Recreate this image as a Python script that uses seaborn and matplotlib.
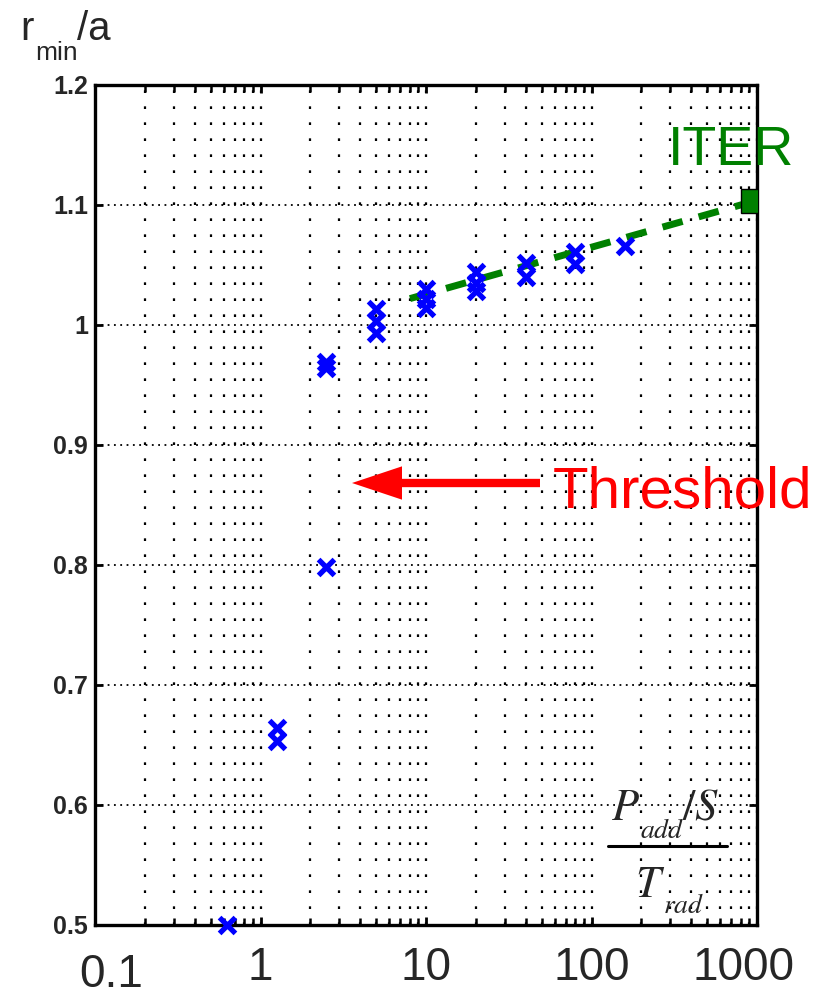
import numpy as np
import pandas as pd
import matplotlib
matplotlib.use("Agg")
import matplotlib.pyplot as plt
import matplotlib.transforms as mtrans
from matplotlib.lines import Line2D
import seaborn as sns

# ---- data ----
power_ratio = [0.625, 1.25, 1.25, 2.5, 2.5, 2.5, 5, 5, 5, 10, 10, 10,
               20, 20, 20, 40, 40, 80, 80, 160]
r_min = [0.5, 0.664, 0.653, 0.969, 0.964, 0.798, 1.013, 1.003, 0.993,
         1.03, 1.022, 1.014, 1.044, 1.035, 1.028, 1.052, 1.04, 1.061, 1.051, 1.066]
fit_x = [8, 950]
fit_y = [1.022, 1.103]
iter_x = [950]
iter_y = [1.103]
xticks = [0.1, 1, 10, 100, 1000]
xticklabels = ["0.1", "1", "10", "100", "1000"]
yticks = [0.5, 0.6, 0.7, 0.8, 0.9, 1.0, 1.1, 1.2]
yticklabels = ["0.5", "0.6", "0.7", "0.8", "0.9", "1", "1.1", "1.2"]

sns.set_style("ticks")
plt.rcParams['font.family'] = ['Liberation Sans', 'DejaVu Sans']
plt.rcParams['mathtext.fontset'] = 'stix'

W, H = 827, 1006
fig = plt.figure(figsize=(W / 100, H / 100), dpi=100)
ax = fig.add_axes([95 / W, 1 - 925 / H, (757 - 95) / W, (925 - 85) / H])

df = pd.DataFrame({"x": power_ratio, "y": r_min})
fit = pd.DataFrame({"x": fit_x, "y": fit_y})

sns.lineplot(data=fit, x="x", y="y", ax=ax, color="#008000", lw=5,
             dashes=False, zorder=3)
ax.lines[-1].set_linestyle((0, (3.0, 2.4)))
ax.plot(iter_x, iter_y, marker="s", ms=17, color="#008000", mec="black",
        mew=1.0, ls="none", zorder=4)
sns.scatterplot(data=df, x="x", y="y", ax=ax, marker="x", color="blue",
                s=130, linewidth=3.8, zorder=5, clip_on=False)

ax.set_xscale("log")
ax.set_xlim(0.1, 1000)
ax.set_ylim(0.5, 1.2)
ax.set_xlabel("")
ax.set_ylabel("")
ax.set_xticks(xticks)
ax.set_xticklabels(xticklabels, fontsize=33)
ax.set_yticks(yticks)
ax.set_yticklabels(yticklabels, fontsize=18, fontweight="bold")

for s in ax.spines.values():
    s.set_visible(True)
    s.set_linewidth(2.4)
    s.set_color("black")

ax.tick_params(which="major", direction="in", top=True, right=True,
               length=6, width=2, color="black")
ax.tick_params(axis="x", which="major", pad=15)
ax.tick_params(axis="y", which="major", pad=5)
ax.tick_params(which="minor", direction="in", top=True, right=True,
               length=5, width=1.8, color="black")

ax.grid(axis="x", which="both", color="black", linestyle=(0, (1.2, 6)), lw=1.6)
ax.grid(axis="y", which="major", color="black", linestyle=(0, (1, 2.5)), lw=1.3)
ax.set_axisbelow(True)

# shift edge tick labels like the reference
labels = ax.get_xticklabels()
labels[0].set_transform(labels[0].get_transform() +
                        mtrans.ScaledTranslation(0.16, -0.07, fig.dpi_scale_trans))
labels[-1].set_transform(labels[-1].get_transform() +
                         mtrans.ScaledTranslation(-0.14, 0, fig.dpi_scale_trans))

# arrow
ax.annotate("", xy=((352 - 95) / 662, (925 - 483) / 840), xycoords="axes fraction",
            xytext=((540 - 95) / 662, (925 - 483) / 840), textcoords="axes fraction",
            arrowprops=dict(arrowstyle="simple,head_length=36,head_width=24,tail_width=6",
                            mutation_scale=1, fc="red", ec="none", shrinkA=0, shrinkB=0))

def ft(x, y, s, **kw):
    fig.text(x / W, 1 - y / H, s, **kw)

ft(553, 507, "Threshold", color="red", fontsize=42, va="baseline", ha="left")
ft(668, 165, "ITER", color="#008000", fontsize=40, va="baseline", ha="left")

ft(20, 40, "r", fontsize=29, va="baseline", ha="left")
ft(35, 60, "min", fontsize=19, va="baseline", ha="left")
ft(77, 40, "/a", fontsize=29, va="baseline", ha="left")

# fraction label
ft(611, 820, r"$P$", fontsize=32, va="baseline", ha="left")
ft(640, 838, r"$add$", fontsize=20, va="baseline", ha="left")
ft(682, 820, r"$/S$", fontsize=32, va="baseline", ha="left")
ft(635, 897, r"$T$", fontsize=32, va="baseline", ha="left")
ft(663, 913, r"$rad$", fontsize=20, va="baseline", ha="left")
fig.add_artist(Line2D([608 / W, 727 / W], [1 - 846 / H, 1 - 846 / H],
                      transform=fig.transFigure, color="black", lw=2.2))

fig.savefig("out.png", dpi=100)
